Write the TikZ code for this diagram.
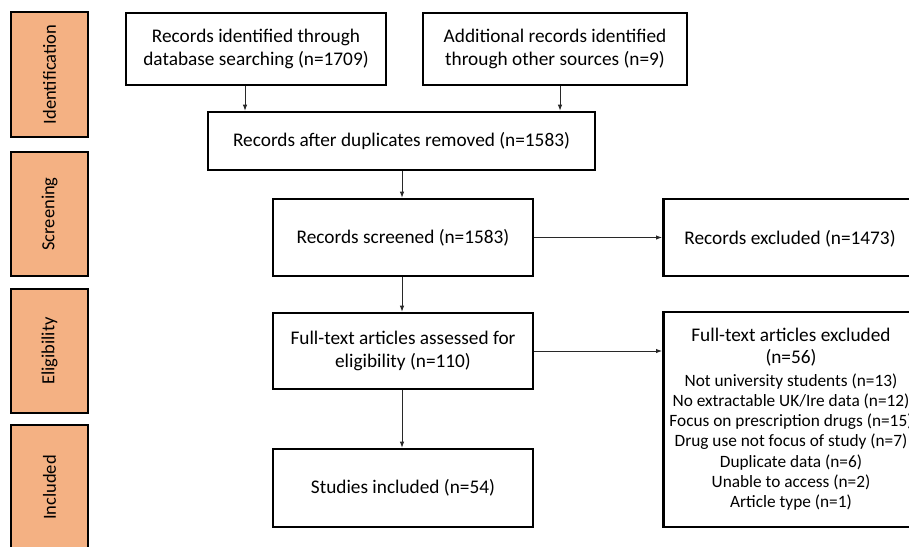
\documentclass[tikz,border=0pt]{standalone}
\usepackage{fontspec}
\setmainfont{Carlito}
\usetikzlibrary{arrows.meta}
\definecolor{stagefill}{RGB}{244,177,131}
\definecolor{linegrey}{RGB}{40,40,40}
\tikzset{
  stagebox/.style={draw=black, line width=2.6pt, fill=stagefill, minimum width=77pt, inner sep=0pt},
  stagelabel/.style={rotate=90, font={\fontsize{18.5}{22}\selectfont}, text=black},
  flowbox/.style={draw=black, line width=2.6pt, fill=white, inner sep=0pt, align=center,
                  font={\fontsize{19.3}{22.5}\selectfont}},
  arr/.style={draw=linegrey, line width=0.9pt, -{Latex[length=6pt,width=4.5pt]}},
  smalltext/.style={align=center, inner sep=0pt, font={\fontsize{17.3}{20.3}\selectfont}},
  titletext/.style={align=center, inner sep=0pt, font={\fontsize{19.3}{22.5}\selectfont}}
}
\begin{document}
\begin{tikzpicture}[x=1pt, y=-1pt]
\useasboundingbox (0,0) rectangle (909,546);
\clip (0,0) rectangle (909,546);
% stage bars
\node[stagebox, minimum height=125pt] (sid) at (49.5,74.5) {};
\node[stagelabel] (lid) at (sid.center) {Identification};
\node[stagebox, minimum height=124pt] (ssc) at (49.5,214) {};
\node[stagelabel] (lsc) at (ssc.center) {Screening};
\node[stagebox, minimum height=124pt] (sel) at (49.5,351) {};
\node[stagelabel] (lel) at (sel.center) {Eligibility};
\node[stagebox, minimum height=125pt] (sin) at (49.5,487.5) {};
\node[stagelabel] (lin) at (sin.center) {Included};
% flow boxes
\node[flowbox, minimum width=260pt, minimum height=72pt] (b1) at (256,49)
  {Records identified through\\database searching (n=1709)};
\node[flowbox, minimum width=264pt, minimum height=72pt] (b2) at (555,49)
  {Additional records identified\\through other sources (n=9)};
\node[flowbox, minimum width=387pt, minimum height=58pt] (b3) at (401.5,141)
  {Records after duplicates removed (n=1583)};
\node[flowbox, minimum width=260pt, minimum height=77pt] (b4) at (403,237.5)
  {Records screened (n=1583)};
\node[flowbox, minimum width=258pt, minimum height=77pt, anchor=west] (b5) at (662,237.5) {};
\node[titletext] (t5) at (790,239) {Records excluded (n=1473)};
\node[flowbox, minimum width=260pt, minimum height=76pt] (b6) at (403,351)
  {Full-text articles assessed for\\eligibility (n=110)};
\node[flowbox, minimum width=260pt, minimum height=78pt] (b7) at (403,488)
  {Studies included (n=54)};
\node[flowbox, minimum width=258pt, minimum height=215pt, anchor=west] (b8) at (662,419.5) {};
\node[titletext] (t8) at (791,347) {Full-text articles excluded\\(n=56)};
\node[smalltext] (l8) at (791,442)
  {Not university students (n=13)\\
   No extractable UK/Ire data (n=12)\\
   Focus on prescription drugs (n=15)\\
   Drug use not focus of study (n=7)\\
   Duplicate data (n=6)\\
   Unable to access (n=2)\\
   Article type (n=1)};
% connectors
\coordinate (xa) at (245,0);
\coordinate (xb) at (560,0);
\coordinate (xc) at (402,0);
\draw[arr] (xa |- b1.south) -- (xa |- b3.north);
\draw[arr] (xb |- b2.south) -- (xb |- b3.north);
\draw[arr] (xc |- b3.south) -- (xc |- b4.north);
\draw[arr] (xc |- b4.south) -- (xc |- b6.north);
\draw[arr] (xc |- b6.south) -- (xc |- b7.north);
\draw[arr] (b4.east) -- (b4.east -| b5.west);
\draw[arr] (b6.east) -- (b6.east -| b8.west);
\end{tikzpicture}
\end{document}
